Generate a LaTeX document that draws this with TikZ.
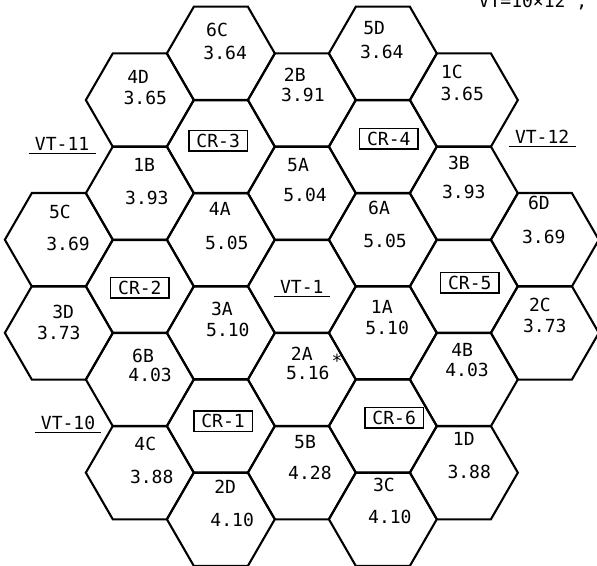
\documentclass[tikz,border=0pt]{standalone}
\usepackage{fontspec}
\setmonofont{DejaVu Sans Mono}
\usetikzlibrary{shapes.geometric}

\tikzset{
  cell/.style={regular polygon, regular polygon sides=6, minimum size=2cm,
    inner sep=0pt, outer sep=0pt, draw, line width=1.1pt},
  txt/.style={font=\ttfamily\fontsize{9.5}{11}\selectfont, inner sep=0pt},
  crbox/.style={txt, draw, line width=0.8pt, inner xsep=0.14cm, inner ysep=0.07cm,
    text height=0.24cm, text depth=0pt},
  vtlab/.style={txt, inner xsep=0.11cm, inner ysep=0.05cm, text height=0.24cm, text depth=0pt},
  uline/.style={line width=0.8pt},
}

\begin{document}
\begin{tikzpicture}[x=1cm,y=1cm]
\useasboundingbox (0,0) rectangle (11.056,-10.481);
% cells, column by column
\node[cell] (h5C) at (1.09,-4.440) {};
\node[cell] (h3D) at (1.09,-6.165) {};
\node[cell] (h4D) at (2.59,-1.853) {};
\node[cell] (h1B) at (2.59,-3.578) {};
\node[cell] (hCR2) at (2.59,-5.303) {};
\node[cell] (h6B) at (2.59,-7.028) {};
\node[cell] (h4C) at (2.59,-8.753) {};
\node[cell] (h6C) at (4.09,-0.990) {};
\node[cell] (hCR3) at (4.09,-2.715) {};
\node[cell] (h4A) at (4.09,-4.440) {};
\node[cell] (h3A) at (4.09,-6.165) {};
\node[cell] (hCR1) at (4.09,-7.890) {};
\node[cell] (h2D) at (4.09,-9.615) {};
\node[cell] (h2B) at (5.59,-1.853) {};
\node[cell] (h5A) at (5.59,-3.578) {};
\node[cell] (hVT1) at (5.59,-5.303) {};
\node[cell] (h2A) at (5.59,-7.028) {};
\node[cell] (h5B) at (5.59,-8.753) {};
\node[cell] (h5D) at (7.09,-0.990) {};
\node[cell] (hCR4) at (7.09,-2.715) {};
\node[cell] (h6A) at (7.09,-4.440) {};
\node[cell] (h1A) at (7.09,-6.165) {};
\node[cell] (hCR6) at (7.09,-7.890) {};
\node[cell] (h3C) at (7.09,-9.615) {};
\node[cell] (h1C) at (8.59,-1.853) {};
\node[cell] (h3B) at (8.59,-3.578) {};
\node[cell] (hCR5) at (8.59,-5.303) {};
\node[cell] (h4B) at (8.59,-7.028) {};
\node[cell] (h1D) at (8.59,-8.753) {};
\node[cell] (h6D) at (10.09,-4.440) {};
\node[cell] (h2C) at (10.09,-6.165) {};
% names and values
\node[txt] (n6C) at (4.02,-0.56) {6C};
\node[txt] (v6C) at (4.17,-0.98) {3.64};
\node[txt] (n4D) at (2.56,-1.43) {4D};
\node[txt] (v4D) at (2.69,-1.81) {3.65};
\node[txt] (n5D) at (6.93,-0.52) {5D};
\node[txt] (v5D) at (7.07,-0.96) {3.64};
\node[txt] (n2B) at (5.46,-1.39) {2B};
\node[txt] (v2B) at (5.61,-1.76) {3.91};
\node[txt] (n1C) at (8.37,-1.33) {1C};
\node[txt] (v1C) at (8.56,-1.74) {3.65};
\node[txt] (n1B) at (2.67,-3.06) {1B};
\node[txt] (v1B) at (2.72,-3.67) {3.93};
\node[txt] (n5A) at (5.52,-3.06) {5A};
\node[txt] (v5A) at (5.65,-3.61) {5.04};
\node[txt] (n3B) at (8.50,-3.02) {3B};
\node[txt] (v3B) at (8.59,-3.56) {3.93};
\node[txt] (n5C) at (1.11,-3.93) {5C};
\node[txt] (v5C) at (1.26,-4.52) {3.69};
\node[txt] (n4A) at (4.07,-3.87) {4A};
\node[txt] (v4A) at (4.20,-4.50) {5.05};
\node[txt] (n6A) at (7.02,-3.85) {6A};
\node[txt] (v6A) at (7.13,-4.46) {5.05};
\node[txt] (n6D) at (9.98,-3.76) {6D};
\node[txt] (v6D) at (10.07,-4.39) {3.69};
\node[txt] (n3D) at (1.17,-5.78) {3D};
\node[txt] (v3D) at (1.09,-6.17) {3.73};
\node[txt] (n3A) at (4.11,-5.72) {3A};
\node[txt] (v3A) at (4.22,-6.11) {5.10};
\node[txt] (n1A) at (7.07,-5.69) {1A};
\node[txt] (v1A) at (7.17,-6.07) {5.10};
\node[txt] (n2C) at (10.00,-5.65) {2C};
\node[txt] (v2C) at (10.09,-6.04) {3.73};
\node[txt] (n6B) at (2.65,-6.59) {6B};
\node[txt] (v6B) at (2.78,-6.94) {4.03};
\node[txt] (n2A) at (5.59,-6.56) {2A};
\node[txt] (v2A) at (5.70,-6.91) {5.16};
\node[txt] (s2A) at (6.24,-6.69) {*};
\node[txt] (n4B) at (8.56,-6.48) {4B};
\node[txt] (v4B) at (8.65,-6.85) {4.03};
\node[txt] (n4C) at (2.69,-8.22) {4C};
\node[txt] (v4C) at (2.81,-8.83) {3.88};
\node[txt] (n5B) at (5.65,-8.19) {5B};
\node[txt] (v5B) at (5.74,-8.76) {4.28};
\node[txt] (n1D) at (8.59,-8.13) {1D};
\node[txt] (v1D) at (8.69,-8.74) {3.88};
\node[txt] (n2D) at (4.17,-9.02) {2D};
\node[txt] (v2D) at (4.30,-9.63) {4.10};
\node[txt] (n3C) at (7.11,-8.98) {3C};
\node[txt] (v3C) at (7.22,-9.57) {4.10};
% boxed cells
\node[crbox] (cr3) at (4.04,-2.61) {CR-3};
\node[crbox] (cr4) at (7.20,-2.57) {CR-4};
\node[crbox] (cr2) at (2.59,-5.33) {CR-2};
\node[crbox] (cr5) at (8.70,-5.24) {CR-5};
\node[crbox] (cr1) at (4.13,-7.80) {CR-1};
\node[crbox] (cr6) at (7.30,-7.74) {CR-6};
% underlined labels
\node[vtlab] (vt1) at (5.59,-5.31) {VT-1};
\draw[uline] (vt1.south west) -- (vt1.south east);
\node[vtlab] (vt11) at (1.15,-2.67) {VT-11};
\draw[uline] (vt11.south west) -- (vt11.south east);
\node[vtlab] (vt12) at (10.04,-2.54) {VT-12};
\draw[uline] (vt12.south west) -- (vt12.south east);
\node[vtlab] (vt10) at (1.26,-7.83) {VT-10};
\draw[uline] (vt10.south west) -- (vt10.south east);
% note cut at the top edge
\node[txt, anchor=base] (note) at (9.87,-0.13) {VT=10×12 ,};
\end{tikzpicture}
\end{document}
